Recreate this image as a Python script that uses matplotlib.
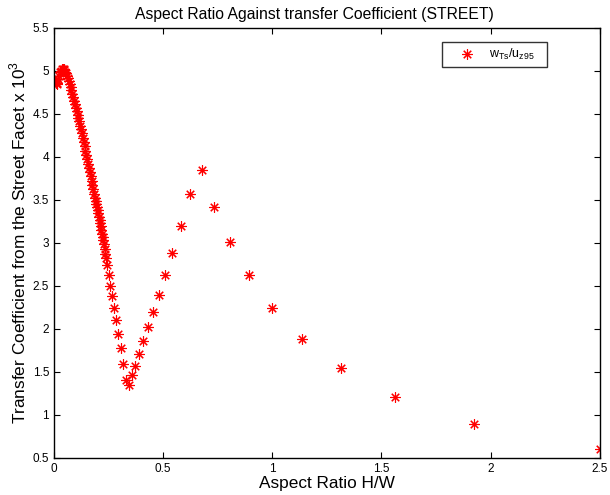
import numpy as np
import matplotlib
matplotlib.use("Agg")
from matplotlib import pyplot as plt

plt.rcParams['font.family'] = ['Liberation Sans', 'DejaVu Sans']

## aspect ratio H/W
aspect_ratio = [0.004, 0.008, 0.012, 0.016, 0.020, 0.024, 0.028, 0.032, 0.036,
                0.040, 0.044, 0.048, 0.052, 0.056, 0.060, 0.064, 0.068, 0.072,
                0.076, 0.080, 0.084, 0.088, 0.092, 0.096, 0.100, 0.104, 0.108,
                0.112, 0.116, 0.120, 0.124, 0.128, 0.132, 0.136, 0.140, 0.144,
                0.148, 0.152, 0.156, 0.160, 0.164, 0.168, 0.172, 0.176, 0.180,
                0.184, 0.188, 0.191, 0.194, 0.197, 0.200, 0.203, 0.207, 0.210,
                0.212, 0.215, 0.217, 0.221, 0.223, 0.226, 0.229, 0.232, 0.236,
                0.239, 0.243,
                0.250, 0.258, 0.266, 0.275, 0.284, 0.294, 0.305, 0.316, 0.329,
                0.342, 0.357, 0.373, 0.391, 0.410, 0.431, 0.455, 0.481, 0.510,
                0.543, 0.581, 0.625, 0.676, 0.735, 0.806, 0.893, 1.000, 1.136,
                1.316, 1.563, 1.923, 2.500]

## transfer coefficient x 10^3
transfer_coeff = [4.88, 4.86, 4.84, 4.86, 4.90, 4.94, 4.98, 5.00, 5.02,
                  5.02, 5.02, 5.01, 4.99, 4.97, 4.94, 4.91, 4.88, 4.85,
                  4.81, 4.77, 4.73, 4.69, 4.65, 4.61, 4.57, 4.53, 4.49,
                  4.45, 4.41, 4.36, 4.32, 4.27, 4.22, 4.17, 4.12, 4.07,
                  4.02, 3.97, 3.92, 3.87, 3.82, 3.77, 3.72, 3.67, 3.62,
                  3.57, 3.52, 3.48, 3.45, 3.41, 3.38, 3.34, 3.30, 3.26,
                  3.23, 3.19, 3.15, 3.10, 3.07, 3.03, 2.98, 2.93, 2.87,
                  2.82, 2.74,
                  2.62, 2.50, 2.38, 2.24, 2.10, 1.94, 1.77, 1.59, 1.40,
                  1.34, 1.46, 1.57, 1.71, 1.86, 2.02, 2.19, 2.39, 2.62,
                  2.88, 3.19, 3.57, 3.85, 3.42, 3.01, 2.62, 2.24, 1.88,
                  1.54, 1.21, 0.89, 0.60]

x_ticks = [0, 0.5, 1, 1.5, 2, 2.5]
x_labels = ['0', '0.5', '1', '1.5', '2', '2.5']
y_ticks = [0.5, 1, 1.5, 2, 2.5, 3, 3.5, 4, 4.5, 5, 5.5]
y_labels = ['0.5', '1', '1.5', '2', '2.5', '3', '3.5', '4', '4.5', '5', '5.5']

fig = plt.figure(figsize=(6.1, 4.95), dpi=100)
ax = fig.add_axes([0.0885, 0.0754, 0.8945, 0.8686])

## MATLAB style asterisk marker
ax.plot(aspect_ratio, transfer_coeff, linestyle='none', marker=(8, 2, 0),
        markersize=7.5, markeredgewidth=0.8, color='red',
        label=r'w$_{\mathregular{Ts}}$/u$_{\mathregular{z95}}$   ')

ax.set_xlim(0, 2.5)
ax.set_ylim(0.5, 5.5)
ax.set_xticks(x_ticks)
ax.set_xticklabels(x_labels)
ax.set_yticks(y_ticks)
ax.set_yticklabels(y_labels)
ax.tick_params(direction='in', top=True, right=True, labelsize=8.5, length=4)
for sp in ax.spines.values():
    sp.set_linewidth(1.0)

ax.set_title('Aspect Ratio Against transfer Coefficient (STREET)', fontsize=11.3, pad=6, x=0.478)
ax.set_xlabel('Aspect Ratio H/W', fontsize=12.4, labelpad=1)
ax.set_ylabel(r'Transfer Coefficient from the Street Facet x 10$^{\mathregular{3}}$', fontsize=12.4, labelpad=3)

leg = ax.legend(loc='upper right', bbox_to_anchor=(0.904, 0.967), borderaxespad=0,
                fontsize=9, frameon=True, fancybox=False, edgecolor='black',
                handletextpad=0.1, borderpad=0.4, handlelength=3.3)
leg.get_frame().set_linewidth(1.0)

fig.savefig('out.png', dpi=100)
